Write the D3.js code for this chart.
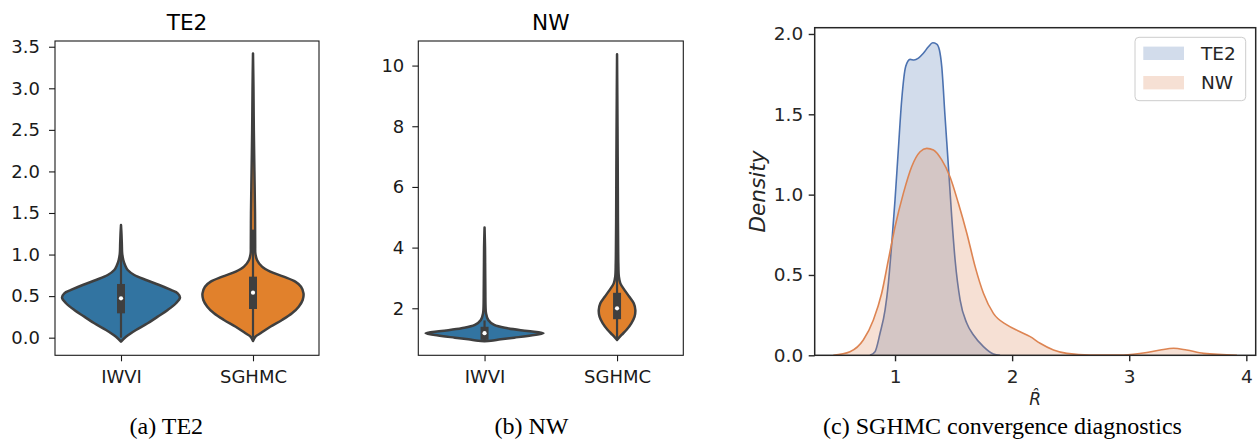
<!DOCTYPE html>
<html>
<head>
<meta charset="utf-8">
<script src="https://cdn.jsdelivr.net/npm/d3@7"></script>
<style>
  html, body { margin: 0; padding: 0; background: #fff; }
  svg { display: block; }
  text { font-family: "DejaVu Sans", sans-serif; }
</style>
</head>
<body>
<svg id="fig" width="1258" height="446"></svg>
<script>
// ---------------- data ----------------
const methods = ["IWVI", "SGHMC"];
const methodColors = ["#3274a1", "#e1812c"];

// TE2 violins: values along the axis and relative density (1 = widest violin)
const te2IwviVal = [-0.048, 0.012, 0.093, 0.173, 0.253, 0.333, 0.414, 0.481, 0.534, 0.574, 0.634, 0.694, 0.754, 0.814, 0.874, 0.935, 1.015, 1.135, 1.25, 1.356];
const te2IwviDen = [0, 0.085, 0.254, 0.452, 0.622, 0.792, 0.932, 1.0, 0.961, 0.847, 0.649, 0.424, 0.225, 0.114, 0.068, 0.039, 0.02, 0.014, 0.008, 0];
const te2SghmcVal = [-0.04, 0.012, 0.053, 0.132, 0.213, 0.293, 0.373, 0.453, 0.534, 0.613, 0.674, 0.734, 0.794, 0.854, 0.935, 1.015, 1.1, 1.5, 2.0, 2.5, 3.0, 3.42];
const te2SghmcDen = [0, 0.042, 0.127, 0.293, 0.492, 0.661, 0.775, 0.842, 0.856, 0.814, 0.717, 0.52, 0.293, 0.153, 0.068, 0.04, 0.037, 0.034, 0.024, 0.014, 0.008, 0];
// TE2 inner boxes [IWVI, SGHMC]
const te2Q1 = [0.293, 0.345];
const te2Median = [0.474, 0.541];
const te2Q3 = [0.646, 0.734];
const te2WhiskLo = [0.0, 0.0];
const te2WhiskHi = [1.15, 1.30];

// NW violins
const nwIwviVal = [0.912, 0.933, 0.977, 1.032, 1.087, 1.176, 1.25, 1.34, 1.45, 1.614, 1.835, 2.05, 2.5, 3.0, 3.5, 4.0, 4.66];
const nwIwviDen = [0, 0.107, 0.276, 0.503, 0.729, 1.0, 0.729, 0.39, 0.164, 0.063, 0.025, 0.017, 0.014, 0.012, 0.01, 0.008, 0];
const nwSghmcVal = [0.955, 1.12, 1.285, 1.505, 1.725, 1.944, 2.165, 2.38, 2.6, 2.82, 3.04, 3.48, 3.92, 5.0, 6.5, 8.0, 10.37];
const nwSghmcDen = [0, 0.076, 0.158, 0.242, 0.297, 0.31, 0.283, 0.208, 0.127, 0.056, 0.031, 0.022, 0.019, 0.015, 0.012, 0.008, 0];
const nwQ1 = [0.96, 1.64];
const nwMedian = [1.18, 2.0];
const nwQ3 = [1.39, 2.51];
const nwWhiskLo = [0.93, 1.0];
const nwWhiskHi = [1.6, 3.8];

// R-hat density estimates
const rhatTE2 = [0.786, 0.829, 0.872, 0.915, 0.943, 0.972, 1.0, 1.028, 1.057, 1.091, 1.128, 1.162, 1.2, 1.242, 1.285, 1.322, 1.356, 1.379, 1.399, 1.427, 1.456, 1.484, 1.513, 1.556, 1.613, 1.67, 1.755, 1.84, 1.897];
const densTE2 = [0, 0.022, 0.137, 0.282, 0.448, 0.697, 0.967, 1.278, 1.589, 1.797, 1.842, 1.838, 1.85, 1.88, 1.92, 1.945, 1.937, 1.9, 1.797, 1.486, 1.174, 0.863, 0.593, 0.344, 0.199, 0.126, 0.054, 0.008, 0];
const rhatNW = [0.473, 0.615, 0.729, 0.815, 0.886, 0.943, 1.0, 1.071, 1.142, 1.214, 1.271, 1.328, 1.399, 1.47, 1.541, 1.613, 1.684, 1.755, 1.84, 1.955, 2.068, 2.154, 2.239, 2.353, 2.467, 2.667, 2.95, 3.15, 3.265, 3.379, 3.49, 3.635, 3.92];
const densNW = [0, 0.022, 0.095, 0.22, 0.386, 0.593, 0.8, 1.008, 1.174, 1.267, 1.288, 1.278, 1.216, 1.11, 0.946, 0.76, 0.552, 0.386, 0.261, 0.189, 0.147, 0.116, 0.075, 0.033, 0.012, 0.002, 0.002, 0.017, 0.033, 0.044, 0.033, 0.012, 0];
const kdeSeries = ["TE2", "NW"];
const kdeColors = ["#4c72b0", "#dd8452"];

// tick values
const te2Ticks = [0, 0.5, 1.0, 1.5, 2.0, 2.5, 3.0, 3.5];
const nwTicks = [2, 4, 6, 8, 10];
const densTicks = [0, 0.5, 1.0, 1.5, 2.0];
const rhatTicks = [1, 2, 3, 4];

// ---------------- drawing ----------------
const svg = d3.select("#fig");
const INK = "#3f3f3f";

function styleAxis(sel, color, fontSize, lineW) {
  sel.attr("font-family", null).attr("font-size", null);
  sel.selectAll(".tick line").attr("stroke", color).attr("stroke-width", lineW);
  sel.selectAll(".tick text")
    .attr("fill", color)
    .style("font-family", "'DejaVu Sans', sans-serif")
    .style("font-size", fontSize + "px");
}

function drawViolinPanel(p) {
  const x = d3.scalePoint().domain(methods).range([p.left, p.right]).padding(0.5);
  const y = d3.scaleLinear().domain(p.yDomain).range([p.bottom, p.top]);
  const w = d3.scaleLinear().domain([0, 1]).range([0, p.maxHalf]);
  const g = svg.append("g");

  methods.forEach((m, i) => {
    const cx = x(m);
    const pts = p.vals[i].map((v, k) => ({ v: v, d: p.dens[i][k] }));
    const area = d3.area()
      .y(d => y(d.v))
      .x0(d => cx - w(d.d))
      .x1(d => cx + w(d.d))
      .curve(d3.curveCatmullRom.alpha(0.5));
    g.append("path")
      .attr("d", area(pts))
      .attr("fill", methodColors[i])
      .attr("stroke", INK)
      .attr("stroke-width", 2.5)
      .attr("stroke-linejoin", "round");
    // whiskers, inter-quartile box and median
    g.append("line")
      .attr("x1", cx).attr("x2", cx)
      .attr("y1", y(p.lo[i])).attr("y2", y(p.hi[i]))
      .attr("stroke", INK).attr("stroke-width", 2.2);
    g.append("rect")
      .attr("x", cx - 4).attr("width", 8)
      .attr("y", y(p.q3[i]))
      .attr("height", y(p.q1[i]) - y(p.q3[i]))
      .attr("fill", INK);
    g.append("circle")
      .attr("cx", cx).attr("cy", y(p.med[i]))
      .attr("r", 2.1).attr("fill", "#fff");
  });

  // frame
  g.append("rect")
    .attr("x", p.left).attr("y", p.top)
    .attr("width", p.right - p.left).attr("height", p.bottom - p.top)
    .attr("fill", "none").attr("stroke", "#1a1a1a").attr("stroke-width", 1.1);

  const ya = g.append("g")
    .attr("transform", `translate(${p.left},0)`)
    .call(d3.axisLeft(y).tickValues(p.ticks).tickFormat(p.fmt).tickSize(6).tickPadding(p.ypad).tickSizeOuter(0));
  ya.select(".domain").remove();
  styleAxis(ya, "#1a1a1a", 18, 1.1);

  const xa = g.append("g")
    .attr("transform", `translate(0,${p.bottom})`)
    .call(d3.axisBottom(x).tickSize(6).tickPadding(8.5).tickSizeOuter(0));
  xa.select(".domain").remove();
  styleAxis(xa, "#1a1a1a", 18, 1.1);

  g.append("text")
    .attr("x", (p.left + p.right) / 2).attr("y", 29.5)
    .attr("text-anchor", "middle")
    .attr("fill", "#000")
    .style("font-size", "21.6px")
    .text(p.title);
}

drawViolinPanel({
  left: 55, right: 319, top: 41, bottom: 355.3,
  yDomain: [-0.212, 3.569], maxHalf: 59,
  vals: [te2IwviVal, te2SghmcVal], dens: [te2IwviDen, te2SghmcDen],
  q1: te2Q1, med: te2Median, q3: te2Q3, lo: te2WhiskLo, hi: te2WhiskHi,
  ticks: te2Ticks, fmt: d3.format(".1f"), ypad: 9, title: "TE2"
});

drawViolinPanel({
  left: 418.3, right: 683.3, top: 41, bottom: 355.3,
  yDomain: [0.45, 10.81], maxHalf: 59,
  vals: [nwIwviVal, nwSghmcVal], dens: [nwIwviDen, nwSghmcDen],
  q1: nwQ1, med: nwMedian, q3: nwQ3, lo: nwWhiskLo, hi: nwWhiskHi,
  ticks: nwTicks, fmt: d3.format("d"), ypad: 8, title: "NW"
});

// ---- R-hat density panel ----
(function () {
  const L = 814.7, R = 1255.7, T = 27.7, B = 355.3;
  const DARK = "#262626";
  const x = d3.scaleLinear().domain([0.314, 4.08]).range([L, R]);
  const y = d3.scaleLinear().domain([0, 2.039]).range([B, T]);
  const g = svg.append("g");

  const series = [
    rhatTE2.map((r, k) => ({ r: r, d: densTE2[k] })),
    rhatNW.map((r, k) => ({ r: r, d: densNW[k] }))
  ];
  const area = d3.area().x(d => x(d.r)).y0(y(0)).y1(d => y(d.d)).curve(d3.curveMonotoneX);
  const line = d3.line().x(d => x(d.r)).y(d => y(d.d)).curve(d3.curveMonotoneX);
  series.forEach((s, i) => {
    g.append("path").attr("d", area(s)).attr("fill", kdeColors[i]).attr("fill-opacity", 0.25);
    g.append("path").attr("d", line(s)).attr("fill", "none")
      .attr("stroke", kdeColors[i]).attr("stroke-width", 1.6);
  });

  // spines
  g.append("rect")
    .attr("x", L).attr("y", T).attr("width", R - L).attr("height", B - T)
    .attr("fill", "none").attr("stroke", DARK).attr("stroke-width", 1.5);

  const ya = g.append("g").attr("transform", `translate(${L},0)`)
    .call(d3.axisLeft(y).tickValues(densTicks).tickFormat(d3.format(".1f")).tickSize(6).tickPadding(5.5).tickSizeOuter(0));
  ya.select(".domain").remove();
  styleAxis(ya, DARK, 18.5, 1.4);

  const xa = g.append("g").attr("transform", `translate(0,${B})`)
    .call(d3.axisBottom(x).tickValues(rhatTicks).tickFormat(d3.format("d")).tickSize(6).tickPadding(8.5).tickSizeOuter(0));
  xa.select(".domain").remove();
  styleAxis(xa, DARK, 18.5, 1.4);

  // axis labels
  g.append("text")
    .attr("transform", `translate(757,${(T + B) / 2}) rotate(-90)`)
    .attr("text-anchor", "middle").attr("dominant-baseline", "central")
    .attr("fill", DARK).style("font-size", "21.6px").style("font-style", "italic")
    .text("Density");
  // R-hat: R with a combining circumflex
  g.append("text")
    .attr("x", (L + R) / 2).attr("y", 404.5).attr("text-anchor", "middle")
    .attr("fill", DARK).style("font-size", "17px").style("font-style", "italic")
    .text("R\u0302");

  // legend
  const lg = g.append("g");
  lg.append("rect")
    .attr("x", 1135).attr("y", 37.3).attr("width", 110.7).attr("height", 63.4)
    .attr("rx", 4).attr("fill", "#fff").attr("fill-opacity", 0.8)
    .attr("stroke", "#cccccc").attr("stroke-width", 1);
  kdeSeries.forEach((name, i) => {
    const cy = 53.3 + i * 29.4;
    lg.append("rect")
      .attr("x", 1143.3).attr("y", cy - 6.7).attr("width", 40.7).attr("height", 13.4)
      .attr("fill", kdeColors[i]).attr("fill-opacity", 0.25);
    lg.append("text")
      .attr("x", 1201).attr("y", cy).attr("dominant-baseline", "central")
      .attr("fill", DARK).style("font-size", "18.5px")
      .text(name);
  });
})();

// ---- sub-figure captions ----
const captions = ["(a) TE2", "(b) NW", "(c) SGHMC convergence diagnostics"];
const captionX = [166.3, 531.5, 1002.5];
svg.selectAll("text.caption")
  .data(captions)
  .join("text")
  .attr("class", "caption")
  .attr("x", (d, i) => captionX[i])
  .attr("y", 434)
  .attr("text-anchor", "middle")
  .attr("fill", "#000")
  .style("font-family", "'Liberation Serif', 'Times New Roman', serif")
  .style("font-size", "24px")
  .text(d => d);
</script>
</body>
</html>
